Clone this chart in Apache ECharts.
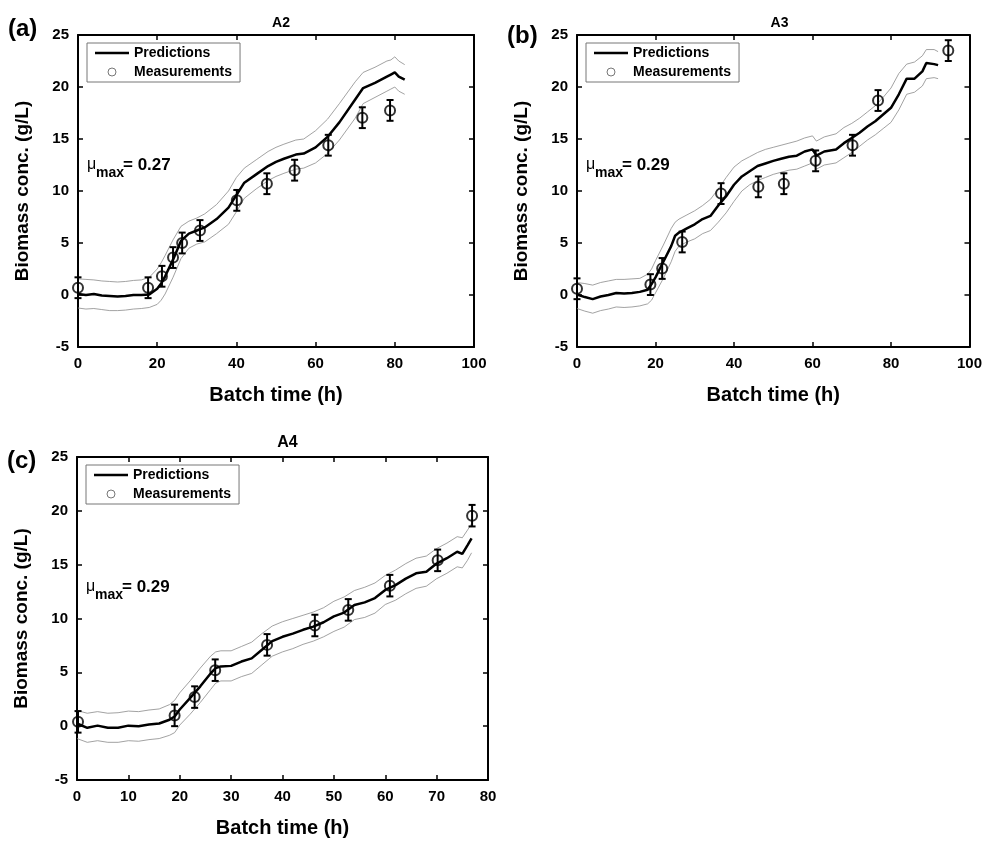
<!DOCTYPE html>
<html>
<head>
<meta charset="utf-8">
<script src="https://cdn.jsdelivr.net/npm/echarts@6/dist/echarts.min.js"></script>
<style>
  html, body { margin: 0; padding: 0; background: #fff; }
  #chart { width: 985px; height: 842px; }
</style>
</head>
<body>
<div id="chart"></div>
<script>
// panel (a) - A2
var timeA = [0, 2, 4, 6, 8, 10, 12, 14, 16, 18, 20, 21, 22, 24, 26, 28, 30, 32, 35, 38, 40, 42, 45, 48, 50, 52, 55, 57, 60, 63, 66, 70, 72, 75, 78, 79, 80, 81, 82.5];
var predA = [0.1, 0.0, 0.1, -0.05, -0.1, -0.15, -0.1, 0.0, 0.0, 0.05, 0.6, 1.1, 1.8, 3.4, 5.2, 5.9, 6.2, 6.5, 7.3, 8.4, 9.6, 10.8, 11.6, 12.4, 12.8, 13.1, 13.5, 13.6, 14.2, 15.2, 16.6, 18.8, 19.9, 20.4, 21.0, 21.2, 21.4, 21.0, 20.7];
var upperA = [1.55, 1.5, 1.45, 1.35, 1.3, 1.25, 1.3, 1.4, 1.45, 1.7, 2.5, 3.1, 3.8, 5.3, 6.6, 7.1, 7.4, 7.8, 8.7, 10.0, 11.3, 12.2, 13.0, 13.8, 14.2, 14.5, 14.9, 15.0, 15.8, 16.9, 18.4, 20.5, 21.4, 21.9, 22.5, 22.6, 22.9, 22.5, 22.15];
var lowerA = [-1.25, -1.35, -1.3, -1.4, -1.5, -1.5, -1.45, -1.35, -1.3, -1.2, -0.9, -0.5, 0.1, 1.7, 3.5, 4.5, 4.9, 5.1, 5.9, 6.8, 8.0, 9.3, 10.2, 11.0, 11.4, 11.7, 12.1, 12.2, 12.7, 13.6, 14.9, 17.0, 18.4, 19.0, 19.6, 19.8, 20.0, 19.6, 19.3];
var measTimeA = [0, 17.7, 21.2, 24.0, 26.3, 30.8, 40.1, 47.7, 54.7, 63.2, 71.8, 78.8];
var measA = [0.7, 0.7, 1.8, 3.6, 5.0, 6.2, 9.1, 10.7, 12.0, 14.4, 17.05, 17.75];
var errA = [1.0, 1.0, 1.0, 1.0, 1.0, 1.0, 1.0, 1.0, 1.0, 1.0, 1.0, 1.0];

// panel (b) - A3
var timeB = [0, 2, 4, 6, 8, 10, 12, 14, 16, 18, 19, 20, 22, 24, 25, 26, 28, 30, 32, 34, 36, 38, 40, 42, 44, 46, 48, 50, 52, 54, 56, 58, 60, 61, 63, 66, 68, 70, 72, 74, 76, 78, 80, 82, 84, 86, 88, 89, 91, 92];
var predB = [0.05, -0.2, -0.4, -0.15, 0.0, 0.2, 0.15, 0.2, 0.3, 0.5, 1.05, 1.7, 3.2, 4.7, 5.7, 6.0, 6.4, 6.8, 7.3, 7.6, 8.6, 9.5, 10.6, 11.4, 11.9, 12.4, 12.65, 12.9, 13.1, 13.3, 13.4, 13.8, 14.0, 13.4, 13.8, 14.0, 14.6, 15.1, 15.6, 16.2, 16.7, 17.35, 18.0, 19.3, 20.8, 20.8, 21.5, 22.3, 22.2, 22.1];
var upperB = [1.2, 1.1, 0.95, 1.2, 1.35, 1.5, 1.5, 1.55, 1.6, 2.0, 2.5, 3.3, 4.8, 6.4, 7.0, 7.3, 7.7, 8.1, 8.6, 9.2, 10.2, 11.3, 12.3, 12.9, 13.3, 13.7, 14.0, 14.2, 14.4, 14.6, 14.8, 15.1, 15.3, 14.8, 15.2, 15.5, 16.1, 16.5, 17.0, 17.6, 18.2, 19.0, 19.9, 21.3, 22.2, 22.4, 23.0, 23.6, 23.6, 23.4];
var lowerB = [-1.3, -1.55, -1.75, -1.5, -1.35, -1.15, -1.2, -1.15, -1.05, -0.85, -0.5, 0.2, 1.6, 3.2, 4.2, 4.7, 5.1, 5.4, 5.9, 6.2, 7.0, 7.9, 9.0, 10.0, 10.6, 11.0, 11.3, 11.6, 11.8, 12.0, 12.1, 12.4, 12.7, 12.1, 12.5, 12.7, 13.2, 13.7, 14.3, 14.9, 15.4, 16.0, 16.6, 17.8, 19.3, 19.5, 20.1, 20.8, 20.9, 20.8];
var measTimeB = [0, 18.7, 21.7, 26.8, 36.7, 46.2, 52.7, 60.8, 70.2, 76.7, 94.6];
var measB = [0.6, 1.0, 2.55, 5.1, 9.75, 10.4, 10.7, 12.9, 14.4, 18.7, 23.5];
var errB = [1.0, 1.0, 1.0, 1.0, 1.0, 1.0, 1.0, 1.0, 1.0, 1.0, 1.0];

// panel (c) - A4
var timeC = [0, 2, 4, 6, 8, 10, 12, 14, 16, 18, 19, 20, 22, 24, 26, 27, 28, 30, 32, 34, 36, 38, 40, 42, 44, 46, 48, 50, 52, 54, 56, 58, 60, 62, 64, 66, 68, 70, 72, 74, 75, 76, 76.8];
var predC = [0.25, -0.15, 0.05, -0.15, -0.15, 0.05, 0.0, 0.15, 0.25, 0.6, 0.9, 1.55, 2.6, 3.7, 4.9, 5.4, 5.55, 5.6, 6.0, 6.3, 7.1, 7.9, 8.3, 8.6, 8.95, 9.25, 9.65, 10.2, 10.55, 11.25, 11.5, 11.9, 12.65, 13.1, 13.7, 14.2, 14.35, 15.1, 15.6, 16.2, 16.0, 16.8, 17.45];
var upperC = [1.45, 1.2, 1.35, 1.2, 1.25, 1.4, 1.35, 1.5, 1.6, 2.0, 2.4, 3.1, 4.2, 5.4, 6.5, 6.9, 7.0, 7.0, 7.4, 7.8, 8.6, 9.3, 9.7, 10.0, 10.3, 10.6, 11.0, 11.6, 12.0, 12.6, 12.9, 13.3, 14.0, 14.5, 15.1, 15.6, 15.8, 16.5, 17.0, 17.6, 17.5, 18.2, 18.8];
var lowerC = [-1.15, -1.5, -1.35, -1.5, -1.5, -1.35, -1.4, -1.25, -1.15, -0.85, -0.6, 0.1, 1.1, 2.2, 3.4, 4.0, 4.2, 4.2, 4.6, 4.9, 5.7, 6.5, 6.9, 7.2, 7.6, 7.9, 8.3, 8.8, 9.2, 9.9, 10.1, 10.5, 11.3, 11.7, 12.3, 12.8, 13.0, 13.7, 14.2, 14.8, 14.7, 15.4, 16.1];
var measTimeC = [0.2, 19.0, 22.9, 26.9, 37.0, 46.3, 52.8, 60.9, 70.2, 76.9];
var measC = [0.4, 1.0, 2.7, 5.2, 7.55, 9.35, 10.8, 13.05, 15.4, 19.55];
var errC = [1.0, 1.0, 1.0, 1.0, 1.0, 1.0, 1.0, 1.0, 1.0, 1.0];

var yTicks = [-5, 0, 5, 10, 15, 20, 25];
var panelTitles = ['A2', 'A3', 'A4'];
var panelLetters = ['(a)', '(b)', '(c)'];
var muValues = ['= 0.27', '= 0.29', '= 0.29'];

var FONT = 'Liberation Sans, Arial, sans-serif';

var panels = [
  { time: timeA, pred: predA, up: upperA, low: lowerA, mt: measTimeA, m: measA, e: errA,
    grid: { left: 78, top: 35, width: 396, height: 312 }, xMax: 100, xStep: 20,
    letterTop: 17, titleTop: 11, titleSize: 14 },
  { time: timeB, pred: predB, up: upperB, low: lowerB, mt: measTimeB, m: measB, e: errB,
    grid: { left: 577, top: 35, width: 395, height: 312 }, xMax: 100, xStep: 20,
    letterTop: 24, titleTop: 11, titleSize: 14 },
  { time: timeC, pred: predC, up: upperC, low: lowerC, mt: measTimeC, m: measC, e: errC,
    grid: { left: 77, top: 457, width: 411, height: 323 }, xMax: 80, xStep: 10,
    letterTop: 449, titleTop: 430, titleSize: 16 }
];

function pairs(xs, ys) {
  return xs.map(function (x, i) { return [x, ys[i]]; });
}

var grids = [], xAxes = [], yAxes = [], series = [], legends = [], titles = [], graphics = [];

panels.forEach(function (p, k) {
  grids.push(p.grid);

  var tickStyle = { show: true, inside: true, length: 5, lineStyle: { color: '#000', width: 1.5 } };
  var lineStyle = { show: true, onZero: false, lineStyle: { color: '#000', width: 2 } };

  // bottom + top x axis
  xAxes.push({
    gridIndex: k, type: 'value', min: 0, max: p.xMax, interval: p.xStep,
    axisLine: lineStyle, axisTick: tickStyle, splitLine: { show: false },
    axisLabel: { color: '#000', fontFamily: FONT, fontWeight: 'bold', fontSize: 15, margin: 9 },
    name: 'Batch time (h)', nameLocation: 'middle', nameGap: 38,
    nameTextStyle: { color: '#000', fontFamily: FONT, fontWeight: 'bold', fontSize: 20 }
  });
  xAxes.push({
    gridIndex: k, type: 'value', min: 0, max: p.xMax, interval: p.xStep, position: 'top',
    axisLine: lineStyle, axisTick: tickStyle, splitLine: { show: false }, axisLabel: { show: false }
  });

  // left + right y axis
  yAxes.push({
    gridIndex: k, type: 'value', min: yTicks[0], max: yTicks[yTicks.length - 1], interval: 5,
    axisLine: lineStyle, axisTick: tickStyle, splitLine: { show: false },
    axisLabel: { color: '#000', fontFamily: FONT, fontWeight: 'bold', fontSize: 15, margin: 9 },
    name: 'Biomass conc. (g/L)', nameLocation: 'middle', nameGap: 46,
    nameTextStyle: { color: '#000', fontFamily: FONT, fontWeight: 'bold', fontSize: 19 }
  });
  yAxes.push({
    gridIndex: k, type: 'value', min: yTicks[0], max: yTicks[yTicks.length - 1], interval: 5,
    position: 'right', axisLine: lineStyle, axisTick: tickStyle,
    splitLine: { show: false }, axisLabel: { show: false }
  });

  var xi = 2 * k, yi = 2 * k;

  // confidence bounds
  [p.up, p.low].forEach(function (b, j) {
    series.push({
      name: 'bound' + k + j, type: 'line', xAxisIndex: xi, yAxisIndex: yi,
      data: pairs(p.time, b), symbol: 'none', silent: true,
      lineStyle: { color: '#8a8a8a', width: 0.8 }, z: 2
    });
  });

  series.push({
    name: 'Predictions', type: 'line', xAxisIndex: xi, yAxisIndex: yi,
    data: pairs(p.time, p.pred), symbol: 'none',
    lineStyle: { color: '#000', width: 2.5 }, itemStyle: { color: '#000' }, z: 3
  });

  series.push({
    name: 'Measurements', type: 'scatter', xAxisIndex: xi, yAxisIndex: yi,
    data: pairs(p.mt, p.m), symbol: 'circle', symbolSize: 10, clip: false,
    itemStyle: { color: 'rgba(0,0,0,0)', borderColor: '#000', borderWidth: 2 }, z: 4
  });

  // error bars
  series.push({
    name: 'err' + k, type: 'custom', xAxisIndex: xi, yAxisIndex: yi, silent: true,
    data: p.mt.map(function (t, i) { return [t, p.m[i], p.e[i]]; }),
    renderItem: function (params, api) {
      var x = api.value(0), y = api.value(1), e = api.value(2);
      var top = api.coord([x, y + e]);
      var bot = api.coord([x, y - e]);
      var cap = 3.5;
      var st = { stroke: '#000', lineWidth: 2 };
      return {
        type: 'group',
        children: [
          { type: 'line', shape: { x1: top[0], y1: top[1], x2: bot[0], y2: bot[1] }, style: st },
          { type: 'line', shape: { x1: top[0] - cap, y1: top[1], x2: top[0] + cap, y2: top[1] }, style: st },
          { type: 'line', shape: { x1: bot[0] - cap, y1: bot[1], x2: bot[0] + cap, y2: bot[1] }, style: st }
        ]
      };
    },
    z: 5
  });

  var g = p.grid;
  legends.push({
    orient: 'vertical', left: g.left + 9, top: g.top + 8,
    padding: [3, 8, 3, 8], itemGap: 5, itemWidth: 34, itemHeight: 8,
    borderColor: '#777', borderWidth: 1, backgroundColor: '#fff',
    textStyle: { color: '#000', fontFamily: FONT, fontWeight: 'bold', fontSize: 14 },
    selectedMode: false,
    data: [
      { name: 'Predictions', icon: 'path://M0,0H40V3H0Z', itemStyle: { color: '#000', borderWidth: 0 } },
      { name: 'Measurements', icon: 'circle', itemStyle: { color: '#fff', borderColor: '#555', borderWidth: 1 } }
    ]
  });

  titles.push({
    text: panelTitles[k], left: g.left + g.width / 2, top: p.titleTop, textAlign: 'center',
    textStyle: { color: '#000', fontFamily: FONT, fontWeight: 'bold', fontSize: p.titleSize }
  });

  // panel letter
  graphics.push({
    type: 'text', left: g.left - 70, top: p.letterTop,
    style: { text: panelLetters[k], fill: '#000', font: 'bold 24px ' + FONT }
  });

  // mu_max annotation
  graphics.push({
    type: 'group', left: g.left + 9, top: g.top + 122,
    children: [
      { type: 'text', x: 0, y: 0, style: { text: '\u03bc', fill: '#000', font: '16px ' + FONT } },
      { type: 'text', x: 9, y: 9, style: { text: 'max', fill: '#000', font: 'bold 14px ' + FONT } },
      { type: 'text', x: 36, y: 0, style: { text: muValues[k], fill: '#000', font: 'bold 17px ' + FONT } }
    ]
  });
});

var chart = echarts.init(document.getElementById('chart'));
chart.setOption({
  backgroundColor: '#fff',
  animation: false,
  title: titles,
  legend: legends,
  grid: grids,
  xAxis: xAxes,
  yAxis: yAxes,
  series: series,
  graphic: graphics
});
</script>
</body>
</html>
